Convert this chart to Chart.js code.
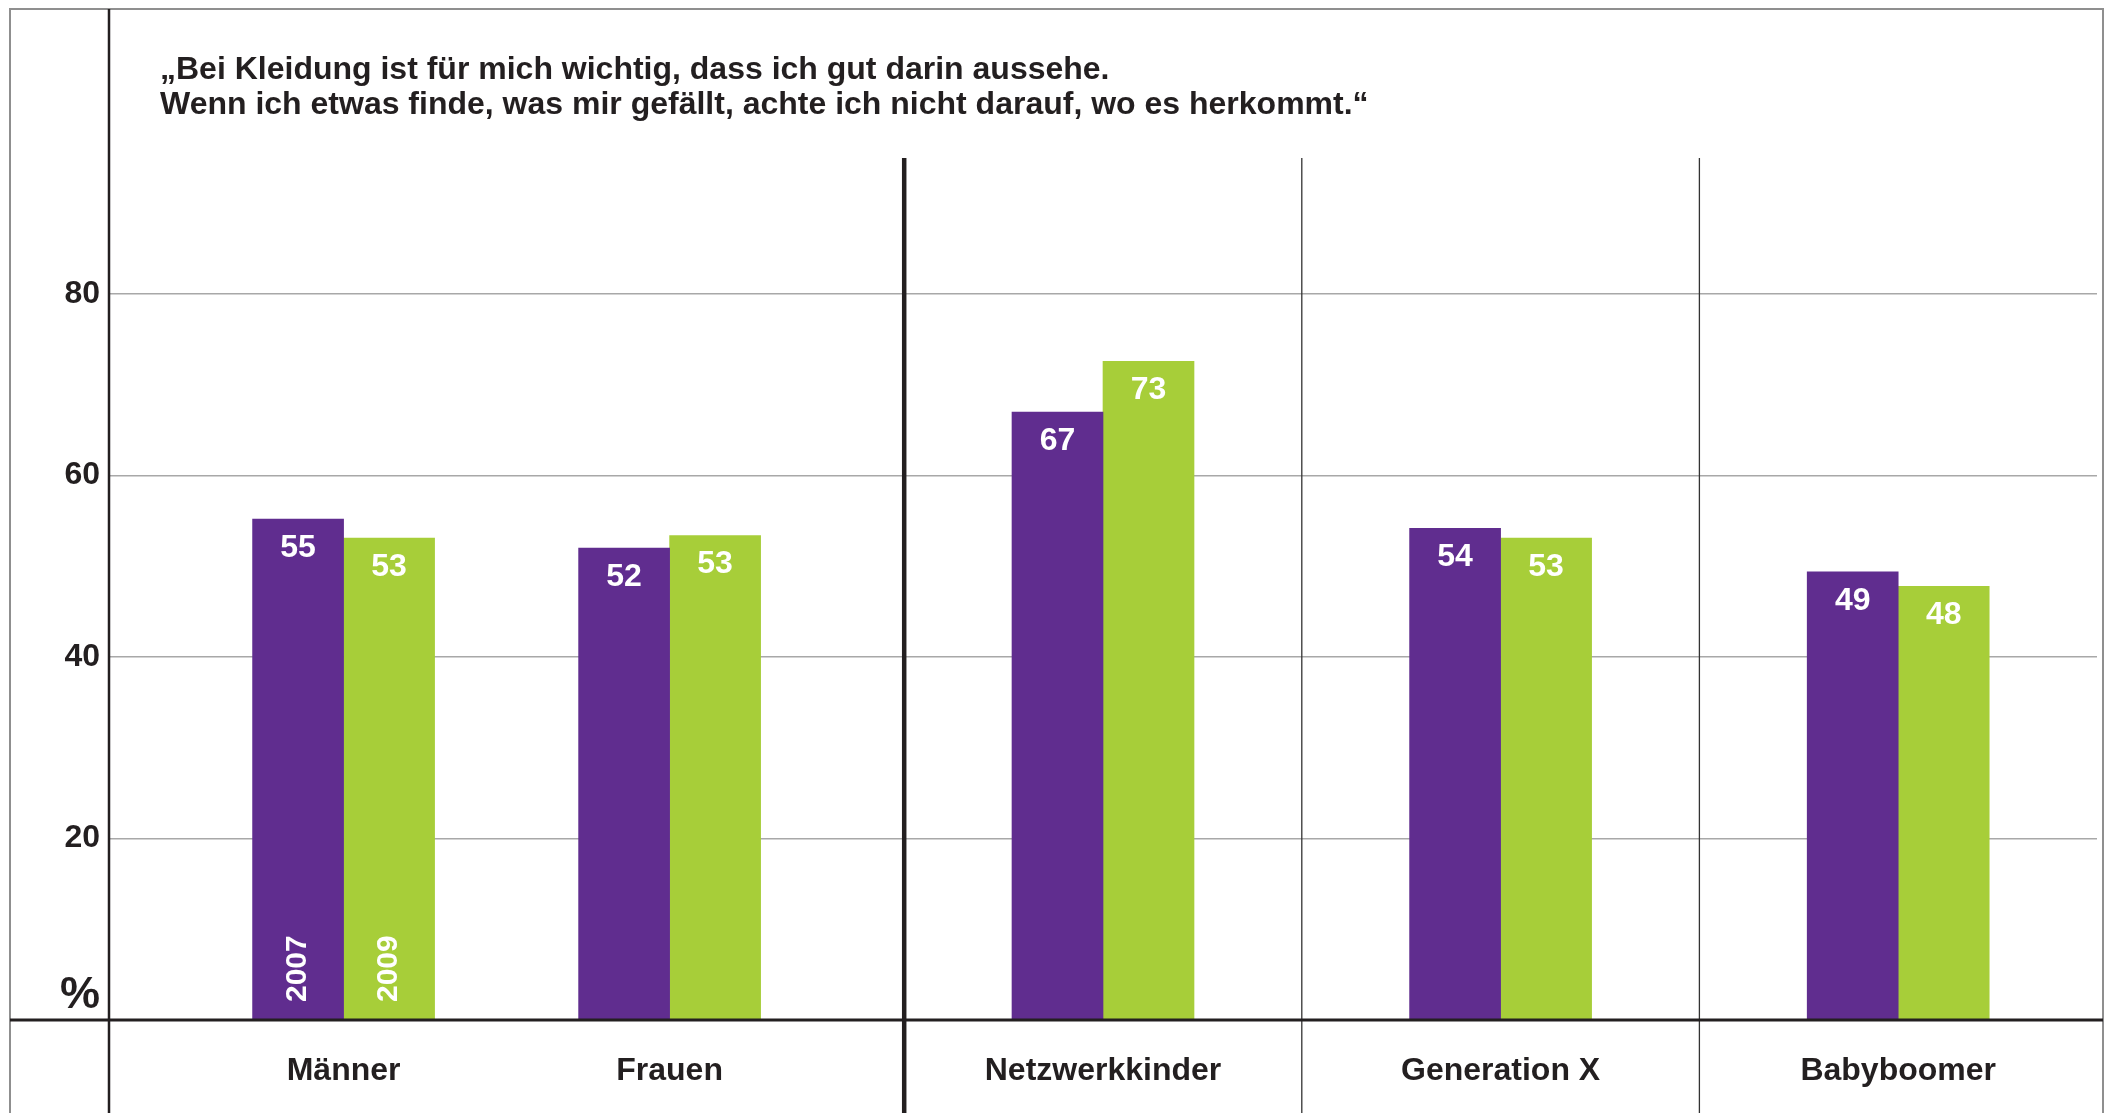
<!DOCTYPE html>
<html>
<head>
<meta charset="utf-8">
<script src="https://cdn.jsdelivr.net/npm/chart.js@4/dist/chart.umd.min.js"></script>
<style>
  html, body { margin: 0; padding: 0; background: #fff; }
  #wrap { width: 2108px; height: 1113px; }
</style>
</head>
<body>
<div id="wrap"><canvas id="chartKleidung" width="2108" height="1113"></canvas></div>
<script>
const categories = ['Männer', 'Frauen', 'Netzwerkkinder', 'Generation X', 'Babyboomer'];
const years = ['2007', '2009'];
const values2007 = [55.2, 52.0, 67.0, 54.2, 49.4];
const values2009 = [53.1, 53.4, 72.6, 53.1, 47.8];
const yTicks = [20, 40, 60, 80];
const titleLines = [
    '„Bei Kleidung ist für mich wichtig, dass ich gut darin aussehe.',
    'Wenn ich etwas finde, was mir gefällt, achte ich nicht darauf, wo es herkommt.“'
];

// where the groups sit on the x scale (0..5), and where the separators go
const groupPos = [0.59, 1.41, 2.5, 3.5, 4.5];
const dividers = [2, 3, 4];

const PURPLE = '#602d8f';
const GREEN = '#a7ce39';
const DARK = '#231f20';
const FONT = '"Liberation Sans", Arial, sans-serif';

const decorPlugin = {
    id: 'decor',
    afterDraw(chart) {
        const ctx = chart.ctx;
        const x = chart.scales.x;
        const y = chart.scales.y;
        const area = chart.chartArea;
        const H = chart.height;
        ctx.save();

        // outer frame
        ctx.strokeStyle = '#8f8f8f';
        ctx.lineWidth = 2;
        ctx.beginPath();
        ctx.moveTo(10, H); ctx.lineTo(10, 9); ctx.lineTo(2103, 9); ctx.lineTo(2103, H);
        ctx.stroke();

        // separators between groups
        dividers.forEach((d, i) => {
            const px = x.getPixelForValue(d);
            ctx.strokeStyle = i === 0 ? DARK : '#333333';
            ctx.lineWidth = i === 0 ? 4.5 : 1.3;
            ctx.beginPath();
            ctx.moveTo(px, area.top); ctx.lineTo(px, H);
            ctx.stroke();
        });

        // axes
        ctx.strokeStyle = DARK;
        ctx.lineWidth = 2.5;
        ctx.beginPath();
        ctx.moveTo(area.left, 9); ctx.lineTo(area.left, H);
        ctx.stroke();
        ctx.lineWidth = 3;
        const y0 = y.getPixelForValue(0);
        ctx.beginPath();
        ctx.moveTo(10, y0); ctx.lineTo(2103, y0);
        ctx.stroke();

        // title
        ctx.fillStyle = DARK;
        ctx.font = 'bold 32px ' + FONT;
        ctx.textAlign = 'left';
        ctx.textBaseline = 'alphabetic';
        ctx.fillText(titleLines[0], 160, 79);
        ctx.fillText(titleLines[1], 160, 114);

        // unit
        ctx.font = 'bold 45px ' + FONT;
        ctx.textAlign = 'right';
        ctx.fillText('%', 100, 1008);

        // value labels
        ctx.fillStyle = '#ffffff';
        ctx.font = 'bold 32px ' + FONT;
        ctx.textAlign = 'center';
        ctx.textBaseline = 'middle';
        chart.data.datasets.forEach((ds, di) => {
            chart.getDatasetMeta(di).data.forEach((bar, i) => {
                ctx.fillText(String(Math.round(ds.data[i].y)), bar.x, bar.y + 29);
            });
        });

        // year labels inside the first group
        ctx.font = 'bold 30px ' + FONT;
        ctx.textAlign = 'left';
        chart.data.datasets.forEach((ds, di) => {
            const bar = chart.getDatasetMeta(di).data[0];
            ctx.save();
            ctx.translate(bar.x, y0 - 18);
            ctx.rotate(-Math.PI / 2);
            ctx.fillText(ds.label, 0, 0);
            ctx.restore();
        });

        ctx.restore();
    }
};

new Chart(document.getElementById('chartKleidung'), {
    type: 'bar',
    data: {
        datasets: [
            {
                label: years[0],
                data: categories.map((c, i) => ({ x: groupPos[i], y: values2007[i] })),
                backgroundColor: PURPLE
            },
            {
                label: years[1],
                data: categories.map((c, i) => ({ x: groupPos[i], y: values2009[i] })),
                backgroundColor: GREEN
            }
        ]
    },
    options: {
        responsive: false,
        animation: false,
        layout: { padding: { top: 158, right: 11, left: 0, bottom: 0 } },
        datasets: { bar: { barThickness: 91, borderWidth: 0 } },
        plugins: {
            legend: { display: false },
            tooltip: { enabled: false },
            title: { display: false }
        },
        scales: {
            x: {
                type: 'linear',
                min: 0,
                max: 5,
                offset: false,
                afterBuildTicks: scale => { scale.ticks = groupPos.map(v => ({ value: v })); },
                afterFit: scale => { scale.height = 93; },
                grid: { display: false, drawTicks: false },
                border: { display: false },
                ticks: {
                    autoSkip: false,
                    maxRotation: 0,
                    padding: 32,
                    color: DARK,
                    font: { family: FONT, size: 32, weight: 'bold' },
                    callback: (v, i) => categories[i]
                }
            },
            y: {
                min: 0,
                max: 95,
                afterBuildTicks: scale => { scale.ticks = yTicks.map(v => ({ value: v })); },
                afterFit: scale => { scale.width = 109; },
                grid: { color: '#a8a8a8', lineWidth: 1.5, drawTicks: false },
                border: { display: false },
                ticks: {
                    padding: 9,
                    color: DARK,
                    font: { family: FONT, size: 32, weight: 'bold' }
                }
            }
        }
    },
    plugins: [decorPlugin]
});
</script>
</body>
</html>
